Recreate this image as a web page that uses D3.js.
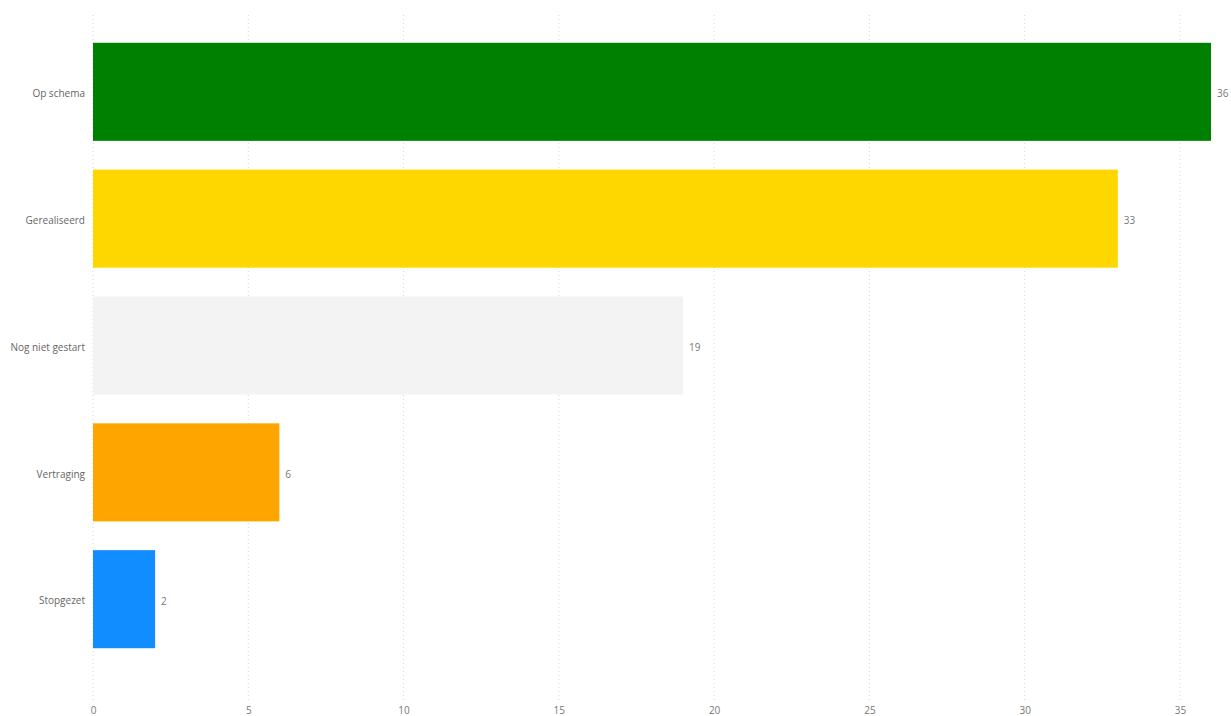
<!DOCTYPE html>
<html>
<head>
<meta charset="utf-8">
<script src="https://cdn.jsdelivr.net/npm/d3@7"></script>
<style>
  html, body { margin: 0; padding: 0; background: #fff; }
  svg { display: block; font-family: "Segoe UI", "Open Sans", "Noto Sans", sans-serif; }
</style>
</head>
<body>
<svg id="chart" width="1231" height="716"></svg>
<script>
// Project status counts
const categories = ["Op schema", "Gerealiseerd", "Nog niet gestart", "Vertraging", "Stopgezet"];
const values = [36, 33, 19, 6, 2];
const colors = ["#008000", "#FFD700", "#F3F3F3", "#FFA500", "#118DFF"];
const xTicks = [0, 5, 10, 15, 20, 25, 30, 35];

const svg = d3.select("#chart");
const plotLeft = 93, plotRight = 1211;
const plotTop = 14, plotBottom = 677;
const fontStack = "\"Segoe UI\", \"Open Sans\", sans-serif";

const x = d3.scaleLinear().domain([0, 36]).range([plotLeft, plotRight]);
const y = d3.scaleBand().domain(categories).range([plotTop, plotBottom])
  .paddingInner(0.227).paddingOuter(0.227);

// Dotted vertical gridlines
svg.append("g").selectAll("line").data(xTicks).join("line")
  .attr("x1", d => x(d)).attr("x2", d => x(d))
  .attr("y1", 15).attr("y2", 703)
  .attr("stroke", "#d6d6d6").attr("stroke-width", 1)
  .attr("stroke-dasharray", "1,3");

// X axis tick labels
const xAxis = d3.axisBottom(x).tickValues(xTicks).tickSize(0).tickPadding(0);
const gx = svg.append("g").attr("transform", "translate(0,707)").call(xAxis);
gx.select(".domain").remove();
gx.selectAll("text").attr("fill", "#777").attr("font-size", 10)
  .attr("font-family", fontStack);

// Y axis category labels
const yAxis = d3.axisLeft(y).tickSize(0).tickPadding(8);
const gy = svg.append("g").attr("transform", `translate(${plotLeft},2)`).call(yAxis);
gy.select(".domain").remove();
gy.selectAll("text").attr("fill", "#666").attr("font-size", 10)
  .attr("font-family", fontStack);

const data = categories.map((c, i) => ({ c, v: values[i], col: colors[i] }));

// Bars
svg.append("g").selectAll("rect").data(data).join("rect")
  .attr("x", x(0))
  .attr("y", d => y(d.c))
  .attr("width", d => x(d.v) - x(0))
  .attr("height", y.bandwidth())
  .attr("fill", d => d.col);

// Value labels
svg.append("g").selectAll("text").data(data).join("text")
  .attr("x", d => x(d.v) + 6)
  .attr("y", d => y(d.c) + y.bandwidth() / 2 + 2)
  .attr("dy", "0.35em")
  .attr("fill", "#777")
  .attr("font-size", 10)
  .text(d => d.v);
</script>
</body>
</html>
